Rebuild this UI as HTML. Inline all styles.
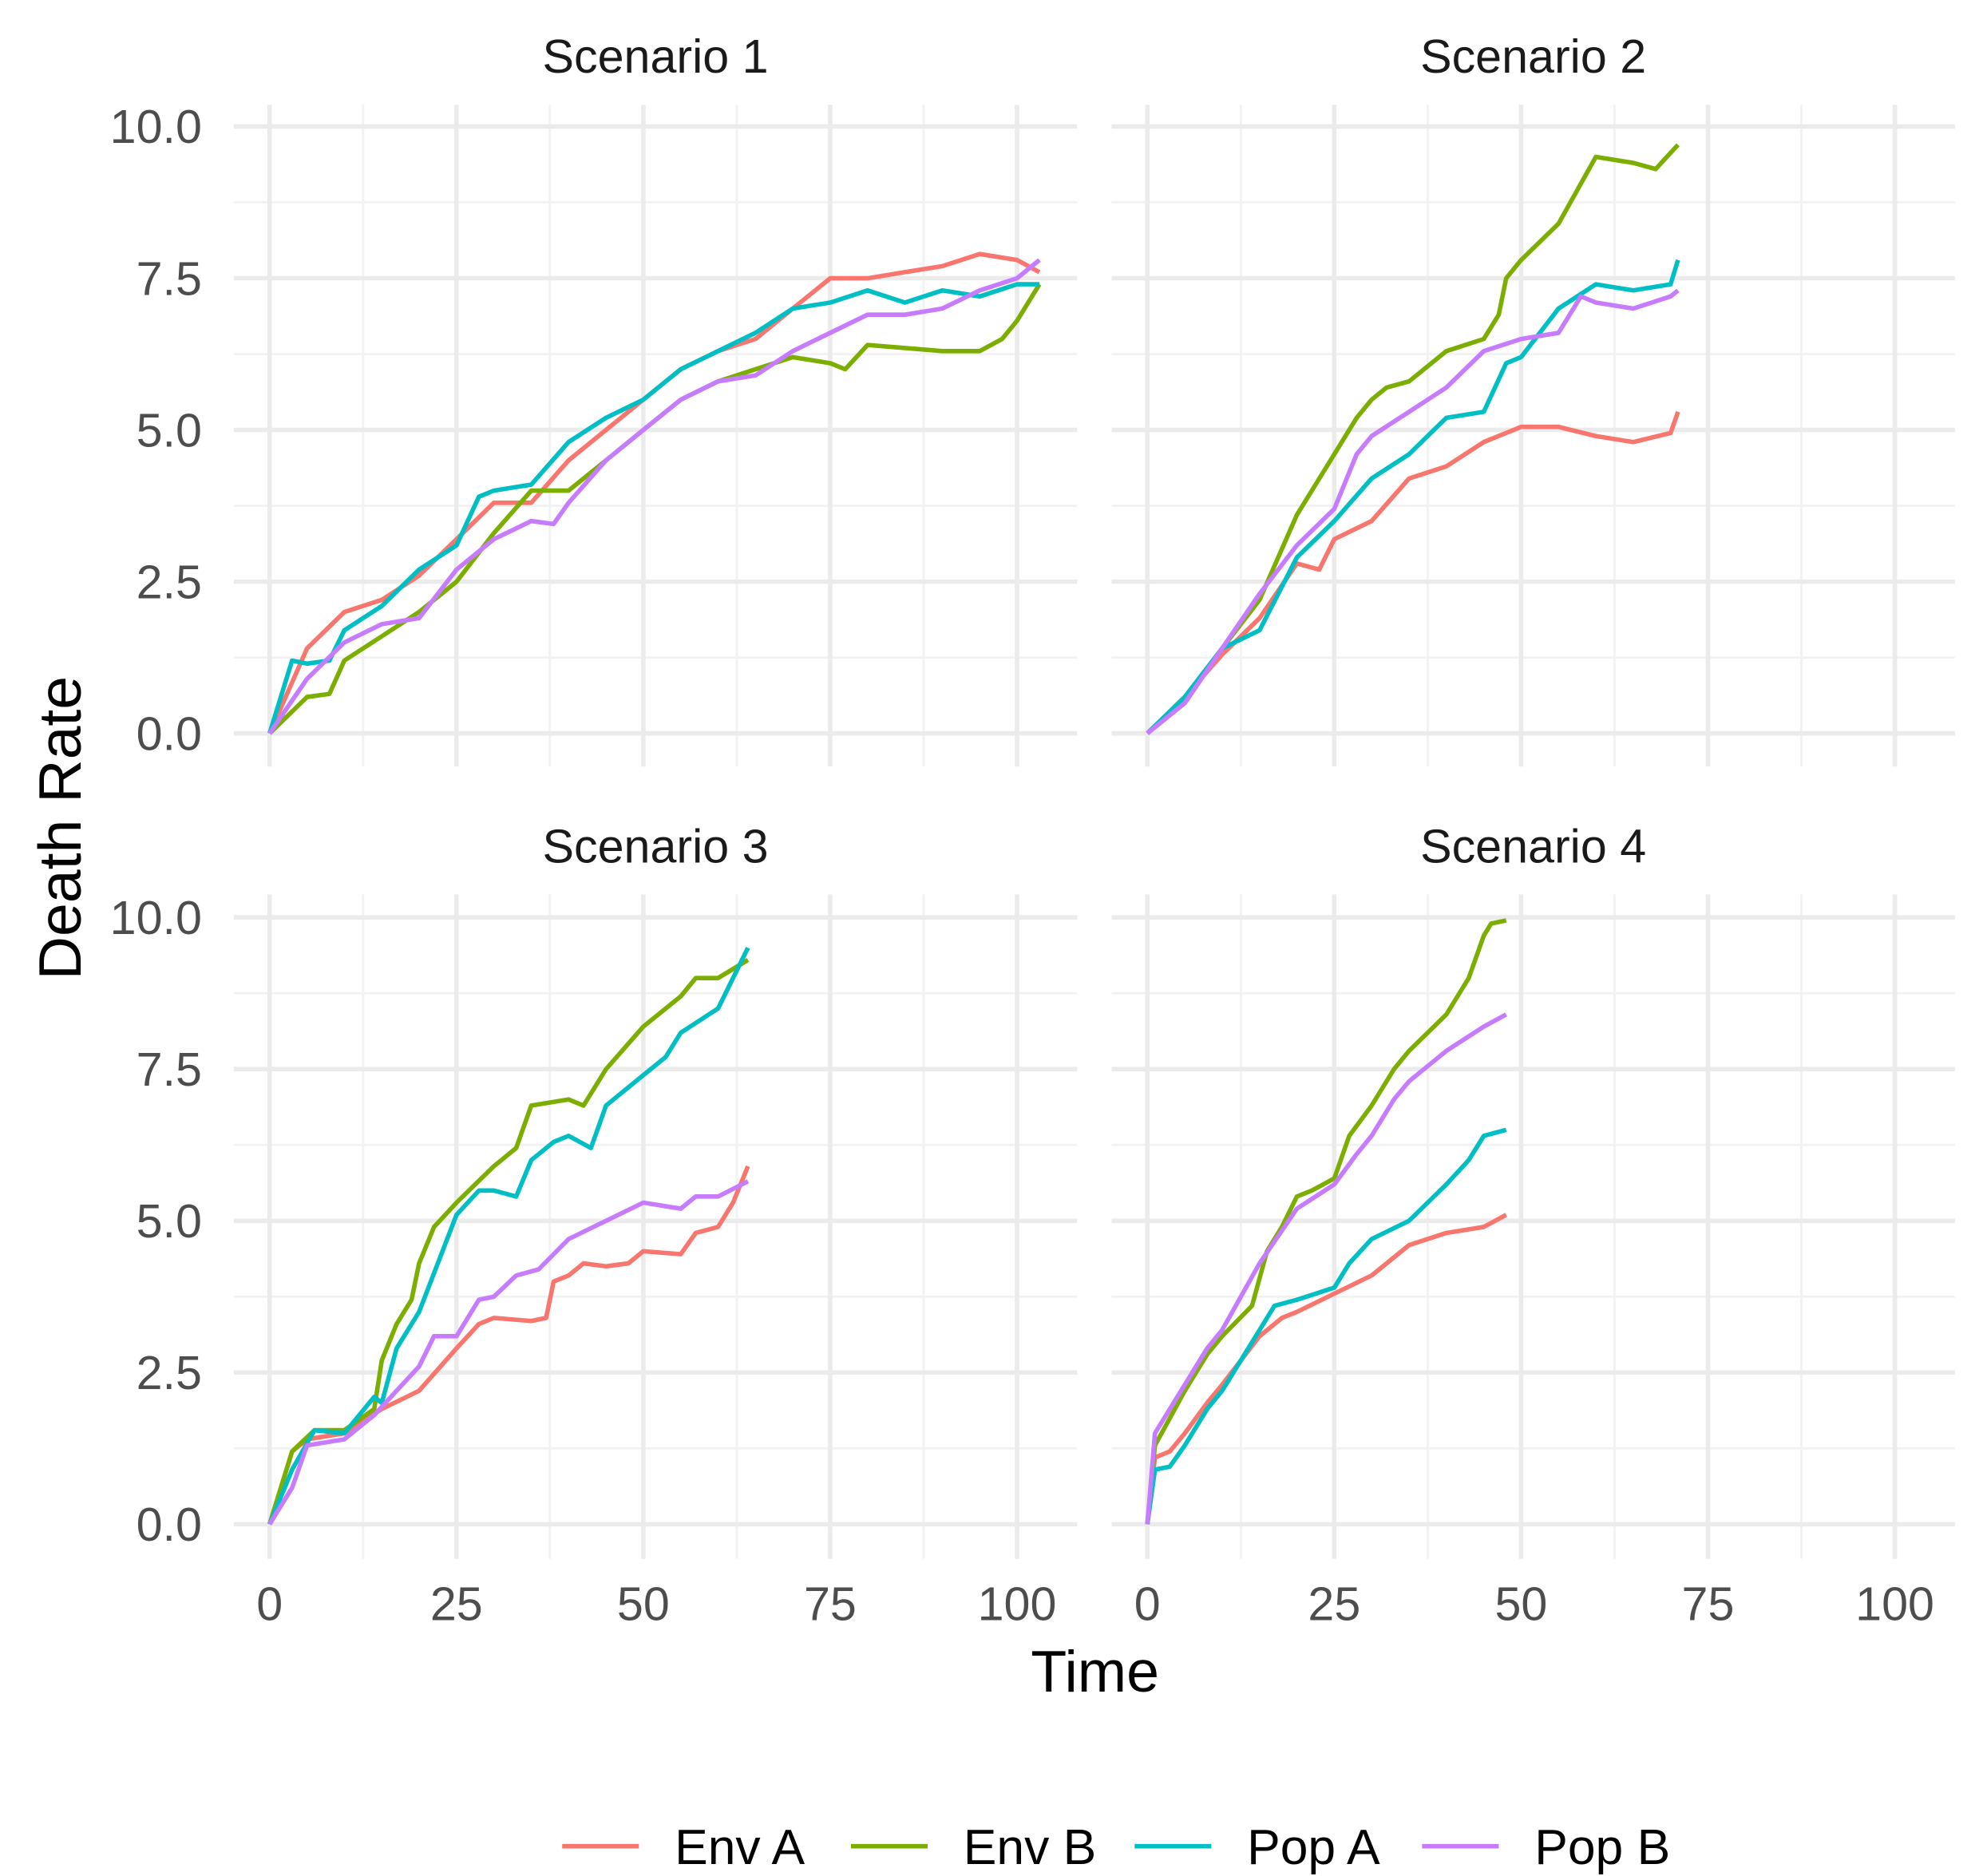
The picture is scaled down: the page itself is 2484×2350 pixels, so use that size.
<!DOCTYPE html>
<html><head><meta charset="utf-8"><style>
html,body{margin:0;padding:0;background:#fff;}
svg{display:block;font-family:"Liberation Sans",Arial,sans-serif;}
</style></head><body>
<svg id="chart" width="2484" height="2350" viewBox="0 0 1552 1468.3" preserveAspectRatio="none" xmlns="http://www.w3.org/2000/svg">
<text x="63" y="648" font-size="47" text-anchor="middle" transform="rotate(-90 63 648)" fill="#000">Death Rate</text>
<text x="857" y="1324" font-size="46" text-anchor="middle" fill="#000">Time</text>
<g id="legend"></g>
</svg>
<script>
const seriesNames=["Env A","Env B","Pop A","Pop B"];
const colors=["#F8766D","#7CAE00","#00BFC4","#C77CFF"];
const scenarioTitles=["Scenario 1","Scenario 2","Scenario 3","Scenario 4"];
const xTicks=[0,25,50,75,100];
const yTicks=[0,2.5,5,7.5,10];
const yTickLabels=["0.0","2.5","5.0","7.5","10.0"];
// Scenario 1
const s1EnvA=[[0,0],[5,1.4],[10,2.0],[15,2.2],[20,2.6],[25,3.2],[30,3.8],[35,3.8],[40,4.5],[45,5.0],[50,5.5],[55,6.0],[60,6.3],[65,6.5],[70,7.0],[75,7.5],[80,7.5],[85,7.6],[90,7.7],[95,7.9],[100,7.8],[103,7.6]];
const s1EnvB=[[0,0],[5,0.6],[8,0.65],[10,1.2],[15,1.6],[20,2.0],[25,2.5],[30,3.3],[35,4.0],[40,4.0],[45,4.5],[50,5.0],[55,5.5],[60,5.8],[65,6.0],[70,6.2],[75,6.1],[77,6.0],[80,6.4],[85,6.35],[90,6.3],[95,6.3],[98,6.5],[100,6.8],[103,7.4]];
const s1PopA=[[0,0],[3,1.2],[5,1.15],[8,1.2],[10,1.7],[15,2.1],[20,2.7],[25,3.1],[28,3.9],[30,4.0],[35,4.1],[40,4.8],[45,5.2],[50,5.5],[55,6.0],[60,6.3],[65,6.6],[70,7.0],[75,7.1],[80,7.3],[85,7.1],[90,7.3],[95,7.2],[100,7.4],[103,7.4]];
const s1PopB=[[0,0],[5,0.9],[10,1.5],[15,1.8],[20,1.9],[25,2.7],[30,3.2],[35,3.5],[38,3.45],[40,3.8],[45,4.5],[50,5.0],[55,5.5],[60,5.8],[65,5.9],[70,6.3],[75,6.6],[80,6.9],[85,6.9],[90,7.0],[95,7.3],[100,7.5],[103,7.8]];
// Scenario 2
const s2EnvA=[[0,0],[5,0.6],[10,1.3],[15,1.9],[20,2.8],[23,2.7],[25,3.2],[30,3.5],[35,4.2],[40,4.4],[45,4.8],[50,5.05],[55,5.05],[60,4.9],[65,4.8],[70,4.95],[71,5.3]];
const s2EnvB=[[0,0],[5,0.6],[10,1.4],[15,2.2],[20,3.6],[25,4.6],[28,5.2],[30,5.5],[32,5.7],[35,5.8],[40,6.3],[45,6.5],[47,6.9],[48,7.5],[50,7.8],[55,8.4],[60,9.5],[65,9.4],[68,9.3],[71,9.7]];
const s2PopA=[[0,0],[5,0.6],[10,1.4],[15,1.7],[20,2.9],[25,3.5],[30,4.2],[35,4.6],[40,5.2],[45,5.3],[48,6.1],[50,6.2],[55,7.0],[60,7.4],[65,7.3],[70,7.4],[71,7.8]];
const s2PopB=[[0,0],[5,0.5],[10,1.4],[15,2.3],[20,3.1],[25,3.7],[28,4.6],[30,4.9],[35,5.3],[40,5.7],[45,6.3],[50,6.5],[55,6.6],[58,7.2],[60,7.1],[65,7.0],[70,7.2],[71,7.3]];
// Scenario 3
const s3EnvA=[[0,0],[3,1.2],[5,1.4],[10,1.5],[15,1.9],[20,2.2],[25,2.9],[28,3.3],[30,3.4],[35,3.35],[37,3.4],[38,4.0],[40,4.1],[42,4.3],[45,4.25],[48,4.3],[50,4.5],[55,4.45],[57,4.8],[60,4.9],[62,5.3],[64,5.9]];
const s3EnvB=[[0,0],[3,1.2],[6,1.55],[10,1.55],[14,1.9],[15,2.7],[17,3.3],[19,3.7],[20,4.3],[22,4.9],[25,5.3],[30,5.9],[33,6.2],[35,6.9],[40,7.0],[42,6.9],[45,7.5],[50,8.2],[55,8.7],[57,9.0],[60,9.0],[64,9.3]];
const s3PopA=[[0,0],[3,0.9],[6,1.55],[10,1.5],[14,2.1],[15,2.0],[17,2.9],[20,3.5],[25,5.1],[28,5.5],[30,5.5],[33,5.4],[35,6.0],[38,6.3],[40,6.4],[43,6.2],[45,6.9],[50,7.4],[53,7.7],[55,8.1],[60,8.5],[64,9.5]];
const s3PopB=[[0,0],[3,0.6],[5,1.3],[10,1.4],[14,1.8],[17,2.2],[20,2.6],[22,3.1],[25,3.1],[28,3.7],[30,3.75],[33,4.1],[36,4.2],[40,4.7],[45,5.0],[50,5.3],[55,5.2],[57,5.4],[60,5.4],[64,5.65]];
// Scenario 4
const s4EnvA=[[0,0],[1,1.1],[3,1.2],[5,1.5],[8,2.0],[10,2.3],[15,3.1],[18,3.4],[20,3.5],[25,3.8],[30,4.1],[35,4.6],[40,4.8],[45,4.9],[48,5.1]];
const s4EnvB=[[0,0],[1,1.3],[5,2.2],[8,2.8],[10,3.1],[14,3.6],[16,4.5],[18,4.9],[20,5.4],[22,5.5],[25,5.7],[27,6.4],[30,6.9],[33,7.5],[35,7.8],[40,8.4],[43,9.0],[45,9.7],[46,9.9],[48,9.95]];
const s4PopA=[[0,0],[1,0.9],[3,0.95],[5,1.3],[8,1.9],[10,2.2],[15,3.2],[17,3.6],[20,3.7],[25,3.9],[27,4.3],[30,4.7],[35,5.0],[40,5.6],[43,6.0],[45,6.4],[48,6.5]];
const s4PopB=[[0,0],[1,1.5],[5,2.3],[8,2.9],[10,3.2],[15,4.3],[20,5.2],[25,5.6],[28,6.1],[30,6.4],[33,7.0],[35,7.3],[40,7.8],[45,8.2],[48,8.4]];
const scenarios=[[s1EnvA,s1EnvB,s1PopA,s1PopB],[s2EnvA,s2EnvB,s2PopA,s2PopB],[s3EnvA,s3EnvB,s3PopA,s3PopB],[s4EnvA,s4EnvB,s4PopA,s4PopB]];

const NS="http://www.w3.org/2000/svg";
const svg=document.getElementById('chart');
function mk(tag,attrs,parent){const e=document.createElementNS(NS,tag);for(const k in attrs)e.setAttribute(k,attrs[k]);(parent||svg).appendChild(e);return e;}
const panels=[{x0:211,top:82,bot:600,y0:574,y10:99,l:183,r:843},{x0:898,top:82,bot:600,y0:574,y10:99,l:870,r:1530},{x0:211,top:700,bot:1220,y0:1193,y10:718,l:183,r:843},{x0:898,top:700,bot:1220,y0:1193,y10:718,l:870,r:1530}];
const pxPerUnit=5.85;
panels.forEach((p,i)=>{
  const g=mk('g',{});
  
  
  const xs=v=>p.x0+v*pxPerUnit, ys=v=>p.y0+(p.y10-p.y0)*v/10;
  for(let k=0;k<xTicks.length-1;k++){const v=(xTicks[k]+xTicks[k+1])/2;mk('line',{x1:xs(v),x2:xs(v),y1:p.top,y2:p.bot,stroke:'#f2f2f2','stroke-width':1.8},g);}
  for(let k=0;k<yTicks.length-1;k++){const v=(yTicks[k]+yTicks[k+1])/2;mk('line',{x1:p.l,x2:p.r,y1:ys(v),y2:ys(v),stroke:'#f2f2f2','stroke-width':1.8},g);}
  xTicks.forEach(v=>mk('line',{x1:xs(v),x2:xs(v),y1:p.top,y2:p.bot,stroke:'#ebebeb','stroke-width':3.5},g));
  yTicks.forEach(v=>mk('line',{x1:p.l,x2:p.r,y1:ys(v),y2:ys(v),stroke:'#ebebeb','stroke-width':3.5},g));
  const t=mk('text',{x:(p.l+p.r)/2,y:p.top-25,'font-size':37,'text-anchor':'middle',fill:'#1a1a1a'},g);
  
  
  t.textContent=scenarioTitles[i];
  if(i%2===0){yTicks.forEach((v,k)=>{const tl=mk('text',{x:p.l-25,y:ys(v)+13,'font-size':37,'text-anchor':'end',fill:'#4d4d4d'},g);
    
    
    tl.textContent=yTickLabels[k];});}
  if(i>=2){xTicks.forEach(v=>{const tl=mk('text',{x:xs(v),y:p.bot+48,'font-size':37,'text-anchor':'middle',fill:'#4d4d4d'},g);
    
    
    tl.textContent=String(v);});}
  scenarios[i].forEach((ser,j)=>{
    const d=ser.map((pt,k)=>(k?'L':'M')+xs(pt[0]).toFixed(1)+' '+ys(pt[1]).toFixed(1)).join(' ');
    const pa=mk('path',{d:d,fill:'none',stroke:colors[j],'stroke-width':3.5,'stroke-linejoin':'round'},g);
    
    
  });
});
const lg=document.getElementById('legend');
const legX=[440,666,888,1113];
seriesNames.forEach((n,j)=>{
  const e=mk('g',{},lg);
  
  
  mk('line',{x1:legX[j],x2:legX[j]+60,y1:1445,y2:1445,stroke:colors[j],'stroke-width':3.5},e);
  const t=mk('text',{x:legX[j]+88,y:1459,'font-size':39,fill:'#000'},e);
  t.textContent=n;
});
</script>
</body></html>
